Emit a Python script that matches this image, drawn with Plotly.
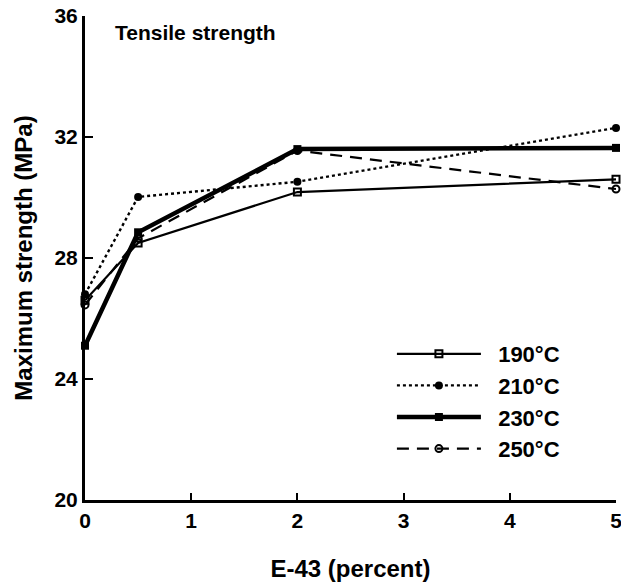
import plotly.graph_objects as go

# Data
e43_percent = [0, 0.5, 2, 5]
series_names = ["190°C", "210°C", "230°C", "250°C"]
strength_190 = [26.6, 28.5, 30.18, 30.6]
strength_210 = [26.8, 30.02, 30.52, 32.3]
strength_230 = [25.1, 28.85, 31.6, 31.64]
strength_250 = [26.45, 28.65, 31.55, 30.28]
x_ticks = [0, 1, 2, 3, 4, 5]
y_ticks = [20, 24, 28, 32, 36]

FONT = "Liberation Sans, Arial, Helvetica, sans-serif"

styles = [
    dict(line=dict(color="black", width=2.2, dash="solid"),
         marker=dict(symbol="square-open", size=7, color="black", line=dict(width=2))),
    dict(line=dict(color="black", width=2.4, dash="dot"),
         marker=dict(symbol="circle", size=8, color="black")),
    dict(line=dict(color="black", width=4.5, dash="solid"),
         marker=dict(symbol="square", size=8, color="black")),
    dict(line=dict(color="black", width=2.2, dash="12px,8px"),
         marker=dict(symbol="circle-open", size=7, color="black", line=dict(width=2))),
]

fig = go.Figure()
for name, ys, st in zip(series_names,
                        [strength_190, strength_210, strength_230, strength_250],
                        styles):
    fig.add_trace(go.Scatter(
        x=e43_percent, y=ys, name="\u00a0\u00a0" + name, mode="lines+markers",
        line=st["line"], marker=st["marker"], cliponaxis=False,
        legendgroup=name,
    ))

tick_font = dict(size=21, family=FONT, weight="bold", color="black")
title_font = dict(size=24, family=FONT, weight="bold", color="black")

fig.update_layout(
    width=621, height=582,
    margin=dict(l=85, r=5, t=16, b=82, autoexpand=False),
    paper_bgcolor="white", plot_bgcolor="white",
    font=dict(family=FONT, size=18, color="black"),
    showlegend=True,
    legend=dict(x=0.578, y=0.345, xanchor="left", yanchor="top",
                bgcolor="rgba(0,0,0,0)",
                font=dict(size=22, family=FONT, weight="bold", color="black"),
                tracegroupgap=0, itemwidth=84),
    xaxis=dict(range=[0, 5], tickvals=x_ticks, ticktext=[str(v) for v in x_ticks],
               showline=True, linecolor="black", linewidth=3, mirror=False,
               ticks="inside", ticklen=7, tickwidth=2, tickcolor="black",
               showgrid=False, zeroline=False, automargin=False,
               ticklabeloverflow="allow",
               tickfont=tick_font,
               title=dict(text="E-43 (percent)", font=title_font, standoff=33)),
    yaxis=dict(range=[20, 36], tickvals=y_ticks, ticktext=[str(v) for v in y_ticks],
               showline=True, linecolor="black", linewidth=3, mirror=False,
               ticks="inside", ticklen=8, tickwidth=2, tickcolor="black",
               showgrid=False, zeroline=False, automargin=False,
               ticklabeloverflow="allow",
               tickfont=tick_font,
               title=dict(text="Maximum strength (MPa)", font=title_font, standoff=16)),
    annotations=[dict(text="Tensile strength", xref="paper", yref="paper",
                      x=0.053, y=0.965, xanchor="left", yanchor="middle",
                      showarrow=False,
                      font=dict(size=21, family=FONT, weight="bold", color="black"))],
)

fig.write_html("out.html",
               config={"displayModeBar": False},
               post_script="document.body.style.margin='0';document.body.style.padding='0';")
